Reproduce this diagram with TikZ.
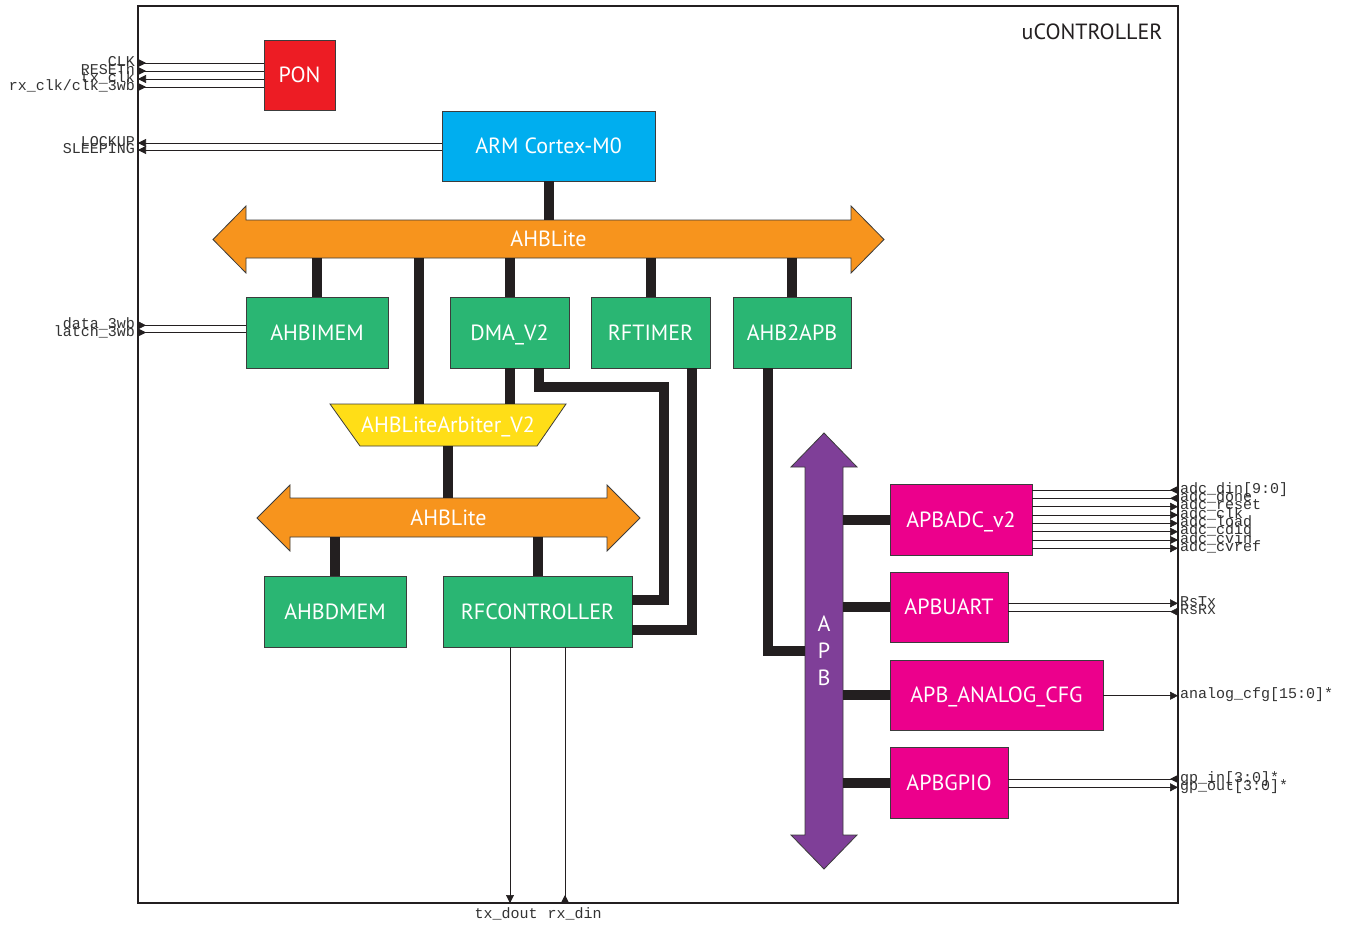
\documentclass[tikz,border=0pt]{standalone}
\usepackage{fontspec}
\setsansfont{PT Sans}
\newfontfamily\sigfont{Liberation Mono}
\usetikzlibrary{arrows.meta}
\definecolor{cBus}{HTML}{231F20}
\definecolor{cEdge}{HTML}{3C3C3C}
\definecolor{cSig}{HTML}{231F20}
\definecolor{cText}{HTML}{333333}
\definecolor{cGreen}{HTML}{2AB673}
\definecolor{cMag}{HTML}{EC008C}
\definecolor{cRed}{HTML}{ED1C24}
\definecolor{cCyan}{HTML}{00AEEF}
\definecolor{cOrange}{HTML}{F7941D}
\definecolor{cYellow}{HTML}{FFDE17}
\definecolor{cPurple}{HTML}{7F3F98}
\tikzset{
  boxfont/.style={font=\sffamily\fontsize{22}{28}\selectfont},
  box/.style={draw=cEdge, line width=0.8pt, text=white, boxfont,
    inner sep=0pt, outer sep=0pt, minimum height=71pt, text height=15.4pt, text depth=0pt},
  gbox/.style={box, fill=cGreen},
  mbox/.style={box, fill=cMag},
  shaft/.style={inner sep=0pt, outer sep=0pt, text=white, boxfont, text height=15.4pt, text depth=0pt},
  vshaft/.style={inner sep=0pt, outer sep=0pt, text=white, font=\sffamily\fontsize{22}{27}\selectfont, align=center},
  busarrow/.style={draw=cEdge, line width=0.8pt, line join=miter},
  bus/.style={draw=cBus, line width=10pt, line join=miter},
  sig/.style={draw=cSig, line width=1pt},
  tipst/.style={draw=cSig, line width=0.6pt, -{Triangle[length=8pt,width=8pt]}},
  lbl/.style={font=\sigfont\fontsize{15}{15}\selectfont, text=cText, inner sep=0pt},
}
% left side signals
\newcommand\sigLin[3]{%
  \draw[sig] (#1) -- (#1 -| uc.west);
  \draw[tipst] (#1 -| uc.west) -- ++(8,0);
  \node[lbl, anchor=base east, xshift=-3pt, yshift=-3.5pt] (#3) at (#1 -| uc.west) {#2};}
\newcommand\sigLout[3]{%
  \draw[sig] (#1) -- (#1 -| uc.west);
  \draw[tipst] (#1 -| uc.west) ++(8,0) -- ++(-8,0);
  \node[lbl, anchor=base east, xshift=-3pt, yshift=-3.5pt] (#3) at (#1 -| uc.west) {#2};}
% right side signals
\newcommand\sigRin[3]{%
  \draw[sig] (#1) -- (#1 -| uc.east);
  \draw[tipst] (#1 -| uc.east) -- ++(-8,0);
  \node[lbl, anchor=base west, xshift=2pt, yshift=-3pt] (#3) at (#1 -| uc.east) {#2};}
\newcommand\sigRout[3]{%
  \draw[sig] (#1) -- (#1 -| uc.east);
  \draw[tipst] (#1 -| uc.east) ++(-8,0) -- ++(8,0);
  \node[lbl, anchor=base west, xshift=2pt, yshift=-3pt] (#3) at (#1 -| uc.east) {#2};}
\begin{document}
\begin{tikzpicture}[x=1pt,y=-1pt]
\useasboundingbox (0,0) rectangle (1351,924);
\fill[white] (0,0) rectangle (1351,924);

% frame
\node[draw=cBus, line width=2pt, inner sep=0pt, outer sep=0pt, minimum width=1040pt, minimum height=897pt] (uc) at (658,454.5) {};
\node[boxfont, text=cBus, inner sep=0pt, text height=15.4pt, text depth=0pt] (title) at (1092,32) {uCONTROLLER};

% blocks
\node[box, fill=cRed, minimum width=71pt, minimum height=70pt] (pon) at (299.5,75) {PON};
\node[box, fill=cCyan, minimum width=213pt, minimum height=70pt] (arm) at (548.5,146) {ARM Cortex-M0};
\node[gbox, minimum width=142pt] (aimem) at (317,332.5) {AHBIMEM};
\node[gbox, minimum width=119pt] (dma) at (509.5,332.5) {DMA\_V2};
\node[gbox, minimum width=119pt] (rft) at (650.5,332.5) {RFTIMER};
\node[gbox, minimum width=118pt] (a2a) at (792,332.5) {AHB2APB};
\node[gbox, minimum width=142pt] (admem) at (335,611.5) {AHBDMEM};
\node[gbox, minimum width=189pt] (rfc) at (537.5,611.5) {RFCONTROLLER};
\node[mbox, minimum width=142pt] (adc) at (961,519.5) {APBADC\_v2};
\node[mbox, minimum width=118pt, minimum height=70pt] (uart) at (949,607) {APBUART};
\node[mbox, minimum width=213pt, minimum height=70pt] (ana) at (996.5,695) {APB\_ANALOG\_CFG};
\node[mbox, minimum width=118pt] (gpio) at (949,782.5) {APBGPIO};

% upper AHBLite bus arrow
\draw[busarrow, fill=cOrange] (246,220) -- (851,220) -- (851,206) -- (884,239.5) -- (851,273) -- (851,258)
  -- (246,258) -- (246,273) -- (213,239.5) -- (246,206) -- cycle;
\node[shaft, minimum width=605pt, minimum height=38pt] (ahbT) at (548.5,239) {AHBLite};

% lower AHBLite bus arrow
\draw[busarrow, fill=cOrange] (290,498) -- (607,498) -- (607,485) -- (640,518) -- (607,551) -- (607,537)
  -- (290,537) -- (290,551) -- (257,518) -- (290,485) -- cycle;
\node[shaft, minimum width=317pt, minimum height=39pt] (ahbB) at (448.5,517.5) {AHBLite};

% APB bus arrow
\draw[busarrow, fill=cPurple] (805,467) -- (791,467) -- (824,433) -- (857,467) -- (843,467) -- (843,835)
  -- (857,835) -- (824,869) -- (791,835) -- (805,835) -- cycle;
\node[vshaft, minimum width=38pt, minimum height=368pt] (apb) at (824,651) {A\\P\\B};

% arbiter
\draw[busarrow, fill=cYellow] (330,404) -- (566,404) -- (537,446) -- (360,446) -- cycle;
\node[shaft, minimum width=236pt, minimum height=42pt] (arb) at (448,425) {AHBLiteArbiter\_V2};

% bus connections
\draw[bus] (arm.south) -- (arm.south |- ahbT.north);
\draw[bus] (aimem.north) -- (aimem.north |- ahbT.south);
\draw[bus] (dma.north) -- (dma.north |- ahbT.south);
\draw[bus] (rft.north) -- (rft.north |- ahbT.south);
\draw[bus] (a2a.north) -- (a2a.north |- ahbT.south);
\draw[bus] ([xshift=-29pt]arb.north) coordinate (q) -- (q |- ahbT.south);
\draw[bus] (dma.south) -- (dma.south |- arb.north);
\draw[bus] (arb.south) -- (arb.south |- ahbB.north);
\draw[bus] (admem.north) -- (admem.north |- ahbB.south);
\draw[bus] (rfc.north) -- (rfc.north |- ahbB.south);
\coordinate (d1) at (664,387);
\draw[bus] ([xshift=29.5pt]dma.south) |- (d1) |- ([yshift=11.5pt]rfc.east);
\draw[bus] ([xshift=41pt]rft.south) |- ([yshift=-18pt]rfc.east);
\draw[bus] ([xshift=-24pt]a2a.south) |- (apb.west);
\draw[bus] (apb.east |- adc.west) -- (adc.west);
\draw[bus] (apb.east |- uart.west) -- (uart.west);
\draw[bus] (apb.east |- ana.west) -- (ana.west);
\draw[bus] (apb.east |- gpio.west) -- (gpio.west);

% left signals
\path ([yshift=12pt]pon.west) coordinate (p1) ([yshift=4pt]pon.west) coordinate (p2)
      ([yshift=-4pt]pon.west) coordinate (p3) ([yshift=-12pt]pon.west) coordinate (p4)
      ([yshift=3pt]arm.west) coordinate (m1) ([yshift=-4pt]arm.west) coordinate (m2)
      ([yshift=7.2pt]aimem.west) coordinate (i1) ([yshift=0pt]aimem.west) coordinate (i2);
\sigLin{p1}{CLK}{lclk}
\sigLin{p2}{RESETn}{lrst}
\sigLout{p3}{tx\_clk}{ltxclk}
\sigLin{p4}{rx\_clk/clk\_3wb}{lrxclk}
\sigLout{m1}{LOCKUP}{llock}
\sigLout{m2}{SLEEPING}{lsleep}
\sigLin{i1}{data\_3wb}{ldata}
\sigLin{i2}{latch\_3wb}{llatch}

% right signals
\path ([yshift=29.5pt]adc.east) coordinate (a1) ([yshift=21.2pt]adc.east) coordinate (a2)
      ([yshift=12.8pt]adc.east) coordinate (a3) ([yshift=4.5pt]adc.east) coordinate (a4)
      ([yshift=-3.8pt]adc.east) coordinate (a5) ([yshift=-12.2pt]adc.east) coordinate (a6)
      ([yshift=-20.5pt]adc.east) coordinate (a7) ([yshift=-28.8pt]adc.east) coordinate (a8)
      ([yshift=3.7pt]uart.east) coordinate (u1) ([yshift=-4.7pt]uart.east) coordinate (u2)
      ([yshift=-0.7pt]ana.east) coordinate (n1)
      ([yshift=3.5pt]gpio.east) coordinate (g1) ([yshift=-4.8pt]gpio.east) coordinate (g2);
\sigRin{a1}{adc\_din[9:0]}{radin}
\sigRin{a2}{adc\_done}{radone}
\sigRout{a3}{adc\_reset}{rarst}
\sigRout{a4}{adc\_clk}{raclk}
\sigRout{a5}{adc\_load}{raload}
\sigRout{a6}{adc\_cdiq}{racdiq}
\sigRout{a7}{adc\_cvin}{racvin}
\sigRout{a8}{adc\_cvref}{racvref}
\sigRout{u1}{RsTx}{rrstx}
\sigRin{u2}{RsRx}{rrsrx}
\sigRout{n1}{analog\_cfg[15:0]*}{ranalog}
\sigRin{g1}{gp\_in[3:0]*}{rgpin}
\sigRout{g2}{gp\_out[3:0]*}{rgpout}

% bottom signals
\path ([xshift=-27.5pt]rfc.south) coordinate (b1) ([xshift=27.5pt]rfc.south) coordinate (b2);
\draw[sig] (b1) -- (b1 |- uc.south);
\draw[tipst] (b1 |- uc.south) ++(0,-8) -- ++(0,8);
\node[lbl, anchor=base, xshift=-4pt, yshift=-15pt] (btx) at (b1 |- uc.south) {tx\_dout};
\draw[sig] (b2) -- (b2 |- uc.south);
\draw[tipst] (b2 |- uc.south) -- ++(0,-8);
\node[lbl, anchor=base, xshift=9.5pt, yshift=-15pt] (brx) at (b2 |- uc.south) {rx\_din};
\end{tikzpicture}
\end{document}
